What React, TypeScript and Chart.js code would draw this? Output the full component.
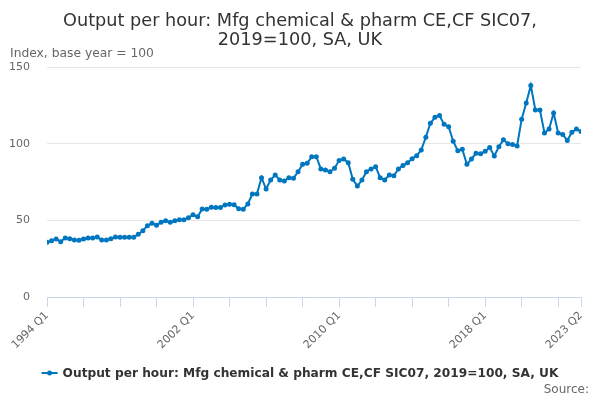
import React, { useEffect, useRef } from "react";
import { Chart, registerables } from "chart.js";

Chart.register(...registerables);

const firstYear = 1994;
const lastYear = 2023;
const lastQuarter = 2;

const quarters: string[] = [];
for (let y = firstYear; y <= lastYear; y++) {
  for (let q = 1; q <= 4; q++) {
    if (y === lastYear && q > lastQuarter) break;
    quarters.push(`${y} Q${q}`);
  }
}

const outputPerHour: number[] = [
  35.7, 36.7, 37.8, 36.1,
  38.5, 38.0, 37.2, 37.0,
  37.8, 38.5, 38.5, 39.1,
  37.2, 37.2, 38.0, 39.1,
  38.9, 38.9, 38.9, 38.9,
  40.9, 43.2, 46.5, 48.1,
  46.8, 48.7, 49.8, 48.7,
  49.8, 50.4, 50.4, 51.7,
  53.7, 52.3, 57.4, 57.2,
  58.5, 58.3, 58.3, 60.0,
  60.5, 60.2, 57.6, 57.2,
  60.7, 67.2, 67.2, 77.8,
  70.4, 76.3, 79.6, 76.3,
  75.7, 77.8, 77.4, 81.7,
  86.5, 87.2, 91.5, 91.5,
  83.5, 82.8, 81.7, 84.0,
  89.0, 90.0, 87.6, 76.8,
  72.4, 76.3, 81.7, 83.5,
  85.0, 77.8, 76.3, 79.6,
  79.1, 83.5, 85.7, 87.6,
  90.2, 92.2, 95.9, 104.2,
  113.3, 117.2, 118.3, 112.6,
  111.1, 101.6, 95.4, 96.3,
  86.5, 90.0, 93.7, 93.5,
  95.0, 97.5, 92.0, 98.0,
  102.5, 100.0, 99.5, 98.5,
  116.0, 126.5, 138.0, 122.0,
  122.0, 107.0, 109.5, 120.0,
  107.0, 106.0, 102.0, 107.5,
  109.5, 108.0,
];

const tickLabels: string[] = ["1994 Q1", "2002 Q1", "2010 Q1", "2018 Q1", "2023 Q2"];
const tickMarkLabels: string[] = [
  "1994 Q1", "1996 Q1", "1998 Q1", "2000 Q1", "2002 Q1", "2004 Q1", "2006 Q1", "2008 Q1",
  "2010 Q1", "2012 Q1", "2014 Q1", "2016 Q1", "2018 Q1", "2020 Q1", "2022 Q1", "2023 Q2",
];
const yTicks: number[] = [0, 50, 100, 150];

const titleLines = ["Output per hour: Mfg chemical & pharm CE,CF SIC07,", "2019=100, SA, UK"];
const seriesName = "Output per hour: Mfg chemical & pharm CE,CF SIC07, 2019=100, SA, UK";
const yAxisLabel = "Index, base year = 100";
const sourceText = "Source:";

const LINE_COLOR = "#0076c0";
const FONT = "'DejaVu Sans', sans-serif";

const decorPlugin = {
  id: "decor",
  afterDraw(chart: any) {
    const ctx = chart.ctx as CanvasRenderingContext2D;
    ctx.save();
    // title
    ctx.fillStyle = "#333333";
    ctx.font = `17.7px ${FONT}`;
    ctx.textAlign = "center";
    ctx.textBaseline = "alphabetic";
    ctx.fillText(titleLines[0], 300, 26);
    ctx.fillText(titleLines[1], 300, 45);
    // y axis label
    ctx.fillStyle = "#666666";
    ctx.font = `12.3px ${FONT}`;
    ctx.textAlign = "left";
    ctx.fillText(yAxisLabel, 10, 57);
    // legend
    ctx.font = `bold 12.2px ${FONT}`;
    const tw = ctx.measureText(seriesName).width;
    const total = 16 + 5 + tw;
    const lx = 300 - total / 2;
    const ly = 373;
    ctx.strokeStyle = LINE_COLOR;
    ctx.lineWidth = 2;
    ctx.beginPath();
    ctx.moveTo(lx, ly);
    ctx.lineTo(lx + 16, ly);
    ctx.stroke();
    ctx.fillStyle = LINE_COLOR;
    ctx.beginPath();
    ctx.arc(lx + 8, ly, 2.5, 0, Math.PI * 2);
    ctx.fill();
    ctx.fillStyle = "#333333";
    ctx.textBaseline = "middle";
    ctx.fillText(seriesName, lx + 21, ly + 1);
    // source
    ctx.fillStyle = "#666666";
    ctx.font = `12px ${FONT}`;
    ctx.textAlign = "right";
    ctx.textBaseline = "alphabetic";
    ctx.fillText(sourceText, 589, 393);
    ctx.restore();
  },
};

export default function App() {
  const ref = useRef<HTMLCanvasElement | null>(null);
  useEffect(() => {
    document.body.style.margin = "0";
    if (!ref.current) return;
    Chart.defaults.font.family = FONT;
    const tickIdx = tickMarkLabels.map((l) => quarters.indexOf(l));
    const labelIdx = tickLabels.map((l) => quarters.indexOf(l));
    const chart = new Chart(ref.current, {
      type: "line",
      data: {
        datasets: [
          {
            label: seriesName,
            data: outputPerHour.map((v, i) => ({ x: i, y: v })),
            borderColor: LINE_COLOR,
            backgroundColor: LINE_COLOR,
            borderWidth: 2,
            pointRadius: 2.5,
            pointBorderWidth: 0,
            pointHoverRadius: 2.5,
            tension: 0,
          },
        ],
      },
      options: {
        animation: false,
        responsive: false,
        devicePixelRatio: 1,
        layout: { padding: { top: 67, left: 0, right: 19, bottom: 0 } },
        plugins: {
          legend: { display: false },
          title: { display: false },
          tooltip: { enabled: false },
        },
        scales: {
          x: {
            type: "linear",
            min: 0,
            max: quarters.length - 1,
            afterBuildTicks: (s: any) => {
              s.ticks = tickIdx.map((v) => ({ value: v }));
            },
            afterFit: (s: any) => {
              s.height = 103;
            },
            ticks: {
              autoSkip: false,
              maxRotation: 45,
              minRotation: 45,
              padding: 2,
              color: "#666666",
              font: { size: 11, family: FONT },
              callback: (v: any) => (labelIdx.includes(Number(v)) ? quarters[Number(v)] : ""),
            },
            grid: {
              drawOnChartArea: false,
              tickLength: 10,
              color: "#ccd6eb",
            },
            border: { color: "#ccd6eb", width: 1 },
          },
          y: {
            min: 0,
            max: 150,
            afterBuildTicks: (s: any) => {
              s.ticks = yTicks.map((v) => ({ value: v }));
            },
            afterFit: (s: any) => {
              s.width = 47;
            },
            ticks: {
              padding: 17,
              color: "#666666",
              font: { size: 11, family: FONT },
            },
            grid: {
              drawTicks: false,
              color: (c: any) => (c.tick && c.tick.value === 0 ? "rgba(0,0,0,0)" : "#e6e6e6"),
            },
            border: { display: false },
          },
        },
      },
      plugins: [decorPlugin],
    });
    return () => chart.destroy();
  }, []);
  return <canvas ref={ref} width={600} height={400} style={{ display: "block" }} />;
}
